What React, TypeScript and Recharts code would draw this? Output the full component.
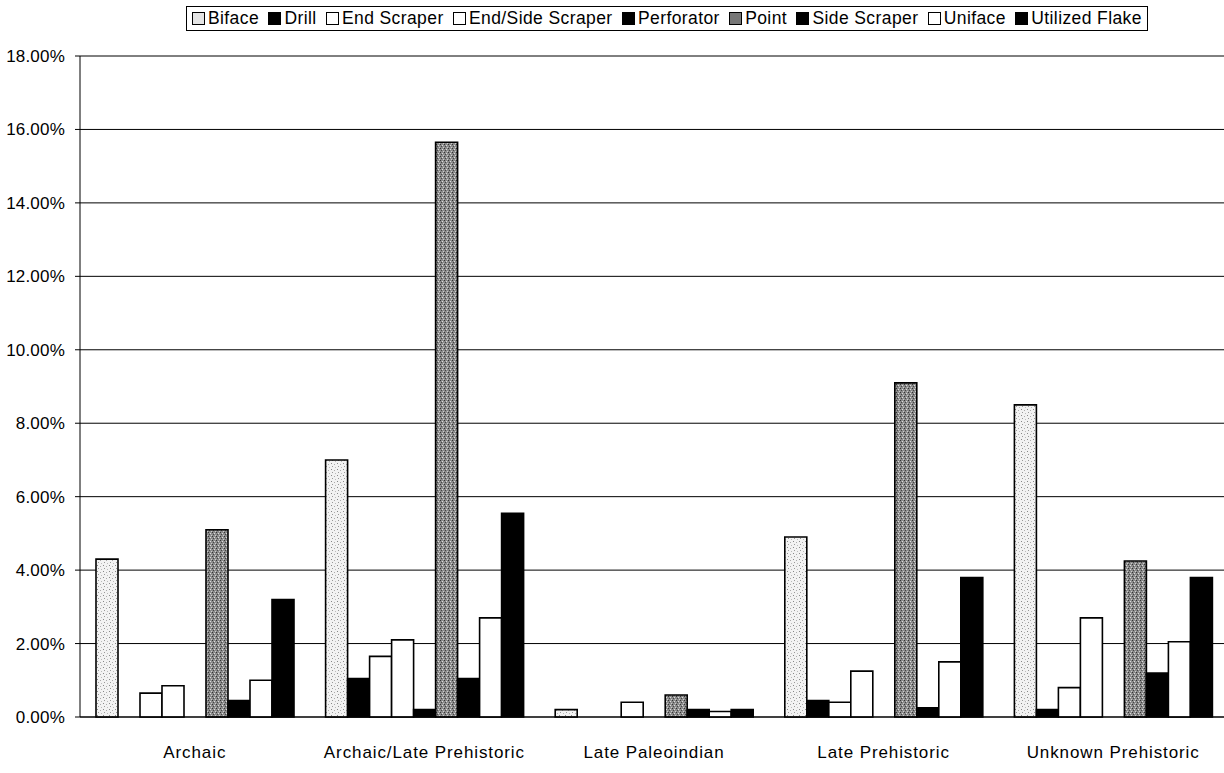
import React from "react";
import { BarChart, Bar, XAxis, YAxis, CartesianGrid } from "recharts";

const categories = [
  "Archaic",
  "Archaic/Late Prehistoric",
  "Late Paleoindian",
  "Late Prehistoric",
  "Unknown Prehistoric",
];

const biface = [4.3, 7.0, 0.2, 4.9, 8.5];
const drill = [0, 1.05, 0, 0.45, 0.2];
const endScraper = [0.65, 1.65, 0, 0.4, 0.8];
const endSideScraper = [0.85, 2.1, 0.4, 1.25, 2.7];
const perforator = [0, 0.2, 0, 0, 0];
const point = [5.1, 15.65, 0.6, 9.1, 4.25];
const sideScraper = [0.45, 1.05, 0.2, 0.25, 1.2];
const uniface = [1.0, 2.7, 0.15, 1.5, 2.05];
const utilizedFlake = [3.2, 5.55, 0.2, 3.8, 3.8];

const yTicks = [0, 2, 4, 6, 8, 10, 12, 14, 16, 18];

const series = [
  { key: "biface", name: "Biface", values: biface, fill: "url(#speckleLight)", swatch: "#e4e4e4" },
  { key: "drill", name: "Drill", values: drill, fill: "#000", swatch: "#000" },
  { key: "endScraper", name: "End Scraper", values: endScraper, fill: "#fff", swatch: "#fff" },
  { key: "endSideScraper", name: "End/Side Scraper", values: endSideScraper, fill: "#fff", swatch: "#fff" },
  { key: "perforator", name: "Perforator", values: perforator, fill: "#000", swatch: "#000" },
  { key: "point", name: "Point", values: point, fill: "url(#speckleDark)", swatch: "#777" },
  { key: "sideScraper", name: "Side Scraper", values: sideScraper, fill: "#000", swatch: "#000" },
  { key: "uniface", name: "Uniface", values: uniface, fill: "#fff", swatch: "#fff" },
  { key: "utilizedFlake", name: "Utilized Flake", values: utilizedFlake, fill: "#000", swatch: "#000" },
];

const data = categories.map((name, i) => {
  const row: Record<string, string | number> = { name };
  series.forEach((s) => {
    row[s.key] = s.values[i];
  });
  return row;
});

const font = "'Liberation Sans', Arial, sans-serif";

export default function App() {
  return (
    <div style={{ position: "absolute", left: 0, top: 0, width: 1224, height: 773, background: "#fff", overflow: "hidden", fontFamily: font }}>
      {/* legend box, Excel style */}
      <div
        style={{
          position: "absolute",
          left: 186,
          top: 6,
          width: 962,
          height: 25,
          border: "1px solid #000",
          display: "flex",
          alignItems: "center",
          justifyContent: "space-between",
          padding: "0 5px",
          boxSizing: "border-box",
          fontSize: 17.5,
          letterSpacing: 0.4,
          color: "#000",
          whiteSpace: "nowrap",
        }}
      >
        {series.map((s) => (
          <span key={s.key} style={{ display: "inline-flex", alignItems: "center" }}>
            <span style={{ display: "inline-block", width: 11, height: 11, border: "1px solid #000", background: s.swatch, marginRight: 3 }} />
            {s.name}
          </span>
        ))}
      </div>
      <BarChart
        width={1228}
        height={773}
        data={data}
        margin={{ top: 56, right: 0, bottom: 0, left: 0 }}
        barGap={0}
        barSize={22}
      >
        <defs>
          <pattern id="speckleLight" width="6" height="6" patternUnits="userSpaceOnUse">
            <rect width="6" height="6" fill="#f2f2f2" />
            <rect x="1" y="1" width="1" height="1" fill="#888" />
            <rect x="4" y="2" width="1" height="1" fill="#aaa" />
            <rect x="2" y="4" width="1" height="1" fill="#999" />
            <rect x="5" y="5" width="1" height="1" fill="#bbb" />
          </pattern>
          <pattern id="speckleDark" width="4" height="4" patternUnits="userSpaceOnUse">
            <rect width="4" height="4" fill="#8a8a8a" />
            <rect x="0" y="0" width="1" height="1" fill="#333" />
            <rect x="2" y="1" width="1" height="1" fill="#ddd" />
            <rect x="1" y="2" width="1" height="1" fill="#444" />
            <rect x="3" y="3" width="1" height="1" fill="#ccc" />
          </pattern>
        </defs>
        <CartesianGrid vertical={false} stroke="#000" strokeWidth={1} />
        <XAxis
          dataKey="name"
          height={56}
          stroke="#000"
          tickLine={false}
          tickSize={0}
          tickMargin={29}
          tick={{ fill: "#000", fontSize: 17, fontFamily: font, letterSpacing: 0.9 }}
          interval={0}
        />
        <YAxis
          width={80}
          domain={[0, 18]}
          ticks={yTicks}
          stroke="#000"
          tickSize={5}
          tickMargin={10}
          tickFormatter={(v: number) => `${v.toFixed(2)}%`}
          tick={{ fill: "#000", fontSize: 17, fontFamily: font, letterSpacing: 0.2 }}
        />
        {series.map((s) => (
          <Bar
            key={s.key}
            dataKey={s.key}
            name={s.name}
            fill={s.fill}
            stroke="#000"
            strokeWidth={1.6}
            isAnimationActive={false}
          />
        ))}
      </BarChart>
    </div>
  );
}
